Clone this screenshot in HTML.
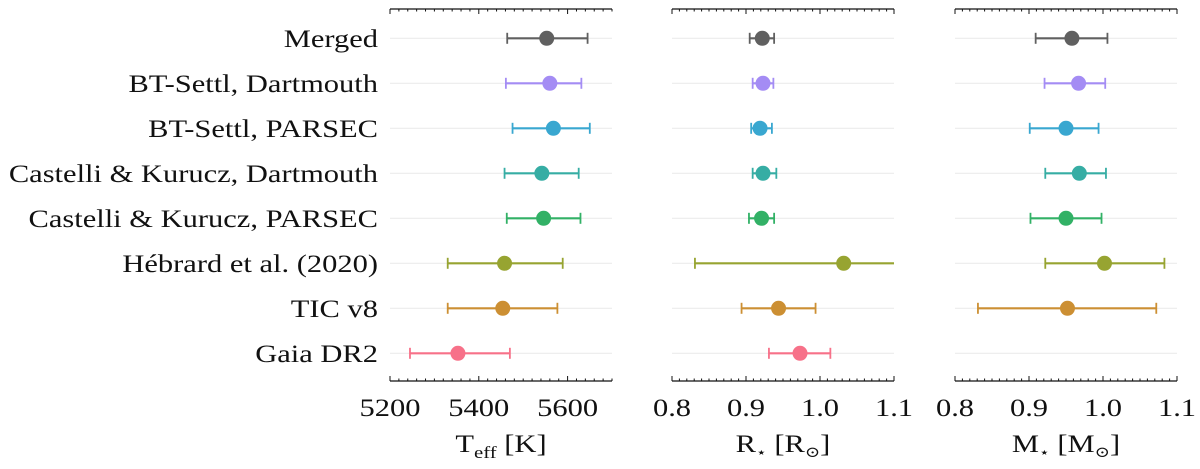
<!DOCTYPE html>
<html><head><meta charset="utf-8"><style>
body{margin:0;background:#fff;}
svg{display:block;font-family:"Liberation Serif","DejaVu Serif",serif;}
</style></head><body>
<svg id="chart" width="1200" height="469" viewBox="0 0 1200 469"></svg>
<script>
const categories = ["Merged","BT-Settl, Dartmouth","BT-Settl, PARSEC","Castelli & Kurucz, Dartmouth","Castelli & Kurucz, PARSEC","Hébrard et al. (2020)","TIC v8","Gaia DR2"];
const colors = ["#606060","#a48cf4","#39a7d0","#36ada4","#32b166","#97a431","#cc8f33","#f77189"];
const teffVal = [5553,5560,5568,5542,5546,5458,5454,5353];
const teffLo  = [5464,5461,5476,5458,5463,5330,5330,5245];
const teffHi  = [5645,5631,5650,5625,5629,5589,5577,5470];
const radVal = [0.922,0.923,0.919,0.923,0.921,1.032,0.944,0.973];
const radLo  = [0.905,0.909,0.907,0.909,0.904,0.831,0.894,0.931];
const radHi  = [0.938,0.937,0.935,0.941,0.938,1.23,0.994,1.014];
const massVal = [0.958,0.967,0.950,0.968,0.950,1.002,0.952,null];
const massLo  = [0.909,0.921,0.901,0.922,0.902,0.922,0.831,null];
const massHi  = [1.006,1.003,0.994,1.004,0.998,1.083,1.072,null];
const teffTicks = [5200,5400,5600];
const unitTicks = [0.8,0.9,1.0,1.1];
const unitTickLabels = ["0.8","0.9","1.0","1.1"];

const NS="http://www.w3.org/2000/svg";
const svg=document.getElementById('chart');
function el(tag,attrs,parent){const e=document.createElementNS(NS,tag);for(const k in attrs)e.setAttribute(k,attrs[k]);(parent||svg).appendChild(e);return e;}
const yTop=9, yBot=381, row0=38.3, rowStep=45;
const SX=1.22;
function yPos(i){return row0+i*rowStep;}
function stext(x,y,anchor,size,parent){
  return el('text',{x:0,y:0,'text-anchor':anchor,'font-size':size,fill:'#111',transform:'translate('+x+','+y+') scale('+SX+',1)'},parent);
}

categories.forEach((c,i)=>{
  const t=stext(378,yPos(i)+8.5,'end',25);
  
  
  t.textContent=c;
});

const panels=[
 {name:'teff',x0:390,x1:612,d0:5200,d1:5700,minor:20,ticks:teffTicks,labels:teffTicks.map(String),val:teffVal,lo:teffLo,hi:teffHi,title:'T<tspan font-size="17" dy="6">eff</tspan><tspan dy="-6"> [K]</tspan>'},
 {name:'radius',x0:672,x1:894,d0:0.8,d1:1.1,minor:0.01,ticks:unitTicks,labels:unitTickLabels,val:radVal,lo:radLo,hi:radHi,title:'R<tspan font-size="14" dy="5">⋆</tspan><tspan dy="-5"> [R</tspan><tspan font-size="15" dy="5">⊙</tspan><tspan dy="-5">]</tspan>'},
 {name:'mass',x0:955,x1:1177,d0:0.8,d1:1.1,minor:0.01,ticks:unitTicks,labels:unitTickLabels,val:massVal,lo:massLo,hi:massHi,title:'M<tspan font-size="14" dy="5">⋆</tspan><tspan dy="-5"> [M</tspan><tspan font-size="15" dy="5">⊙</tspan><tspan dy="-5">]</tspan>'}
];

panels.forEach(p=>{
  const g=el('g',{});
  
  
  const sx=v=>p.x0+(v-p.d0)/(p.d1-p.d0)*(p.x1-p.x0);
  const cp='clip-'+p.name;
  const cl=el('clipPath',{id:cp},g);el('rect',{x:p.x0,y:0,width:p.x1-p.x0,height:469},cl);
  categories.forEach((c,i)=>{
    const l=el('line',{x1:p.x0,x2:p.x1,y1:yPos(i),y2:yPos(i),stroke:'#ebebeb','stroke-width':1.2},g);
    
    
  });
  [yTop,yBot].forEach((y,k)=>{
    const a=el('line',{x1:p.x0,x2:p.x1,y1:y,y2:y,stroke:'#111','stroke-width':1.2},g);
    
    
    const dir=k?-1:1;
    const n=Math.round((p.d1-p.d0)/p.minor);
    for(let j=0;j<=n;j++){
      const v=p.d0+j*p.minor;
      const major=p.ticks.some(t=>Math.abs(t-v)<p.minor/10);
      const x=sx(v);
      el('line',{x1:x,x2:x,y1:y,y2:y+dir*(major?5:2.5),stroke:'#111','stroke-width':1},g);
    }
  });
  p.ticks.forEach((t,j)=>{
    const tx=stext(sx(t),416,'middle',25,g);
    
    
    tx.textContent=p.labels[j];
  });
  const tt=stext((p.x0+p.x1)/2,452,'middle',25,g);
  
  
  tt.innerHTML=p.title;
  const sg=el('g',{'clip-path':'url(#'+cp+')'},g);
  categories.forEach((c,i)=>{
    if(p.val[i]==null)return;
    const y=yPos(i), col=colors[i];
    const eb=el('g',{},sg);
    
    
    el('line',{x1:sx(p.lo[i]),x2:sx(p.hi[i]),y1:y,y2:y,stroke:col,'stroke-width':2.2},eb);
    [p.lo[i],p.hi[i]].forEach(v=>el('line',{x1:sx(v),x2:sx(v),y1:y-5.5,y2:y+5.5,stroke:col,'stroke-width':1.8},eb));
    const pt=el('circle',{cx:sx(p.val[i]),cy:y,r:7.5,fill:col},sg);
    
    
  });
});
</script>
</body></html>
